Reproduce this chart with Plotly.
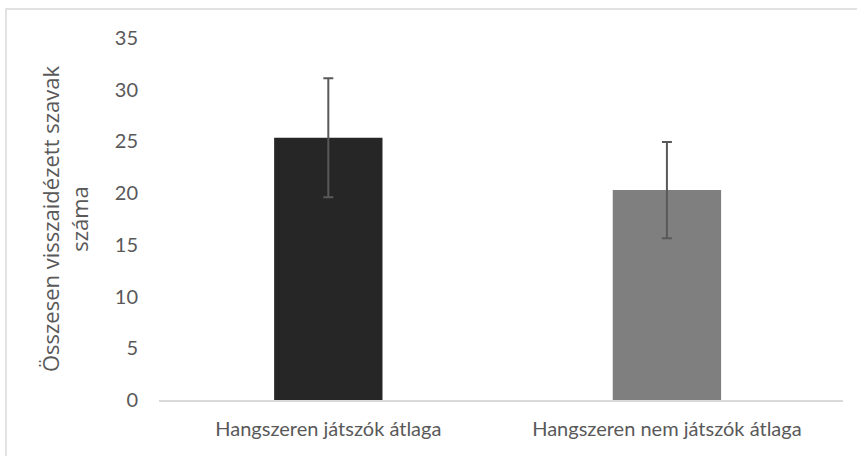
import plotly.graph_objects as go

categories = ["Hangszeren játszók átlaga", "Hangszeren nem játszók átlaga"]
means = [25.35, 20.3]
errors = [5.75, 4.65]
bar_colors = ["#262626", "#7f7f7f"]
y_ticks = [0, 5, 10, 15, 20, 25, 30, 35]
y_title = "Összesen visszaidézett szavak<br>száma"

FONT = "Lato"
TXT = "#595959"

fig = go.Figure(
    go.Bar(
        x=[0, 1],
        y=means,
        width=0.32,
        marker=dict(color=bar_colors, line=dict(width=0)),
        error_y=dict(type="data", array=errors, visible=True,
                     color="#595959", thickness=2, width=5),
        hoverinfo="skip",
    )
)

fig.update_layout(
    width=857, height=456,
    margin=dict(l=159, r=14, t=38, b=56, autoexpand=False),
    paper_bgcolor="white", plot_bgcolor="white",
    font=dict(family=FONT, color=TXT, size=20),
    showlegend=False,
    shapes=[dict(type="rect", xref="paper", yref="paper",
                 x0=-0.2237, x1=1.05, y0=-0.3, y1=1.0801,
                 line=dict(color="#d9d9d9", width=1.5), layer="below")],
)
fig.update_xaxes(
    range=[-0.5, 1.52], tickvals=[0, 1], ticktext=categories,
    showline=True, linecolor="#d9d9d9", linewidth=1.5,
    showgrid=False, zeroline=False, ticks="",
    tickfont=dict(family=FONT, size=20, color=TXT),
    ticklabelstandoff=10,
)
fig.update_yaxes(
    range=[0, 35], tickvals=y_ticks,
    showline=False, showgrid=False, zeroline=False, ticks="",
    tickfont=dict(family=FONT, size=20, color=TXT),
    ticklabelstandoff=20,
    title=dict(text=y_title, font=dict(family="Open Sans", size=22, color=TXT), standoff=20),
)

fig.write_html("out.html", config={"displayModeBar": False},
               post_script="document.body.style.margin='0';")
